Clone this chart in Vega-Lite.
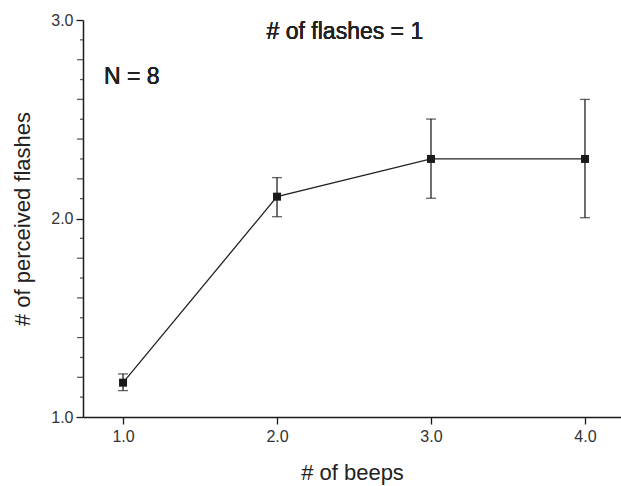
{
  "$schema": "https://vega.github.io/schema/vega-lite/v6.json",
  "width": 538,
  "height": 397,
  "autosize": {"type": "none"},
  "padding": {"left": 83, "top": 20, "right": 0, "bottom": 69},
  "background": "white",
  "config": {
    "view": {"stroke": null},
    "font": "Liberation Sans",
    "axis": {"grid": false, "domainColor": "#1a1a1a", "domainWidth": 1.5, "tickColor": "#1a1a1a", "tickWidth": 1.3, "labelColor": "#333333", "labelFontSize": 16, "labelFont": "Liberation Sans", "titleFont": "Liberation Sans", "titleFontSize": 22, "titleFontWeight": "normal", "titleColor": "#222222"}
  },
  "datasets": {
    "tick02": [{"v": 1.2}, {"v": 1.4}, {"v": 1.6}, {"v": 1.8}, {"v": 2.2}, {"v": 2.4}, {"v": 2.6}, {"v": 2.8}],
    "tick01": [{"v": 1.1}, {"v": 1.3}, {"v": 1.5}, {"v": 1.7}, {"v": 1.9}, {"v": 2.1}, {"v": 2.3}, {"v": 2.5}, {"v": 2.7}, {"v": 2.9}]
  },
  "data": {"values": [
    {"beeps": 1, "mean": 1.173, "lo": 1.133, "hi": 1.217},
    {"beeps": 2, "mean": 2.11, "lo": 2.009, "hi": 2.206},
    {"beeps": 3, "mean": 2.30, "lo": 2.102, "hi": 2.501},
    {"beeps": 4, "mean": 2.30, "lo": 2.004, "hi": 2.600}
  ]},
  "layer": [
    {
      "mark": {"type": "line", "color": "#222222", "strokeWidth": 1.3},
      "encoding": {
        "x": {"field": "beeps", "type": "quantitative", "scale": {"domain": [0.74, 4.234], "nice": false, "zero": false},
          "axis": {"title": "# of beeps", "values": [1, 2, 3, 4], "format": ".1f", "tickSize": 7, "labelPadding": 4, "titlePadding": 18}},
        "y": {"field": "mean", "type": "quantitative", "scale": {"domain": [1, 3], "nice": false, "zero": false},
          "axis": {"title": "# of perceived flashes", "values": [1, 2, 3], "format": ".1f", "tickSize": 7, "labelPadding": 3, "titlePadding": 16}}
      }
    },
    {
      "data": {"name": "tick02"},
      "mark": {"type": "tick", "orient": "horizontal", "color": "#1a1a1a", "thickness": 1.3, "size": 6, "xOffset": -3, "clip": false},
      "encoding": {
        "x": {"datum": 0.74, "type": "quantitative", "axis": {"title": "# of beeps", "values": [1, 2, 3, 4], "format": ".1f", "tickSize": 7, "labelPadding": 4, "titlePadding": 18}},
        "y": {"field": "v", "type": "quantitative", "axis": {"title": "# of perceived flashes", "values": [1, 2, 3], "format": ".1f", "tickSize": 7, "labelPadding": 3, "titlePadding": 16}}
      }
    },
    {
      "data": {"name": "tick01"},
      "mark": {"type": "tick", "orient": "horizontal", "color": "#1a1a1a", "thickness": 1.3, "size": 3, "xOffset": -1.5, "clip": false},
      "encoding": {
        "x": {"datum": 0.74, "type": "quantitative", "axis": {"title": "# of beeps", "values": [1, 2, 3, 4], "format": ".1f", "tickSize": 7, "labelPadding": 4, "titlePadding": 18}},
        "y": {"field": "v", "type": "quantitative", "axis": {"title": "# of perceived flashes", "values": [1, 2, 3], "format": ".1f", "tickSize": 7, "labelPadding": 3, "titlePadding": 16}}
      }
    },
    {
      "mark": {"type": "rule", "color": "#222222", "strokeWidth": 1.3},
      "encoding": {
        "x": {"field": "beeps", "type": "quantitative", "axis": {"title": "# of beeps", "values": [1, 2, 3, 4], "format": ".1f", "tickSize": 7, "labelPadding": 4, "titlePadding": 18}},
        "y": {"field": "lo", "type": "quantitative", "axis": {"title": "# of perceived flashes", "values": [1, 2, 3], "format": ".1f", "tickSize": 7, "labelPadding": 3, "titlePadding": 16}},
        "y2": {"field": "hi"}
      }
    },
    {
      "mark": {"type": "tick", "orient": "horizontal", "color": "#222222", "thickness": 1.3, "size": 10},
      "encoding": {
        "x": {"field": "beeps", "type": "quantitative", "axis": {"title": "# of beeps", "values": [1, 2, 3, 4], "format": ".1f", "tickSize": 7, "labelPadding": 4, "titlePadding": 18}},
        "y": {"field": "lo", "type": "quantitative", "axis": {"title": "# of perceived flashes", "values": [1, 2, 3], "format": ".1f", "tickSize": 7, "labelPadding": 3, "titlePadding": 16}}
      }
    },
    {
      "mark": {"type": "tick", "orient": "horizontal", "color": "#222222", "thickness": 1.3, "size": 10},
      "encoding": {
        "x": {"field": "beeps", "type": "quantitative", "axis": {"title": "# of beeps", "values": [1, 2, 3, 4], "format": ".1f", "tickSize": 7, "labelPadding": 4, "titlePadding": 18}},
        "y": {"field": "hi", "type": "quantitative", "axis": {"title": "# of perceived flashes", "values": [1, 2, 3], "format": ".1f", "tickSize": 7, "labelPadding": 3, "titlePadding": 16}}
      }
    },
    {
      "mark": {"type": "point", "shape": "square", "filled": true, "color": "#1a1a1a", "size": 64, "opacity": 1},
      "encoding": {
        "x": {"field": "beeps", "type": "quantitative", "axis": {"title": "# of beeps", "values": [1, 2, 3, 4], "format": ".1f", "tickSize": 7, "labelPadding": 4, "titlePadding": 18}},
        "y": {"field": "mean", "type": "quantitative", "axis": {"title": "# of perceived flashes", "values": [1, 2, 3], "format": ".1f", "tickSize": 7, "labelPadding": 3, "titlePadding": 16}}
      }
    },
    {
      "mark": {"type": "text", "text": "# of flashes = 1", "fontSize": 23, "color": "#222222", "align": "center", "baseline": "middle"},
      "encoding": {
        "x": {"datum": 2.441, "type": "quantitative", "axis": {"title": "# of beeps", "values": [1, 2, 3, 4], "format": ".1f", "tickSize": 7, "labelPadding": 4, "titlePadding": 18}},
        "y": {"datum": 2.94, "type": "quantitative", "axis": {"title": "# of perceived flashes", "values": [1, 2, 3], "format": ".1f", "tickSize": 7, "labelPadding": 3, "titlePadding": 16}}
      }
    },
    {
      "mark": {"type": "text", "text": "N = 8", "fontSize": 23, "color": "#222222", "align": "left", "baseline": "middle"},
      "encoding": {
        "x": {"datum": 0.876, "type": "quantitative", "axis": {"title": "# of beeps", "values": [1, 2, 3, 4], "format": ".1f", "tickSize": 7, "labelPadding": 4, "titlePadding": 18}},
        "y": {"datum": 2.713, "type": "quantitative", "axis": {"title": "# of perceived flashes", "values": [1, 2, 3], "format": ".1f", "tickSize": 7, "labelPadding": 3, "titlePadding": 16}}
      }
    }
  ]
}
